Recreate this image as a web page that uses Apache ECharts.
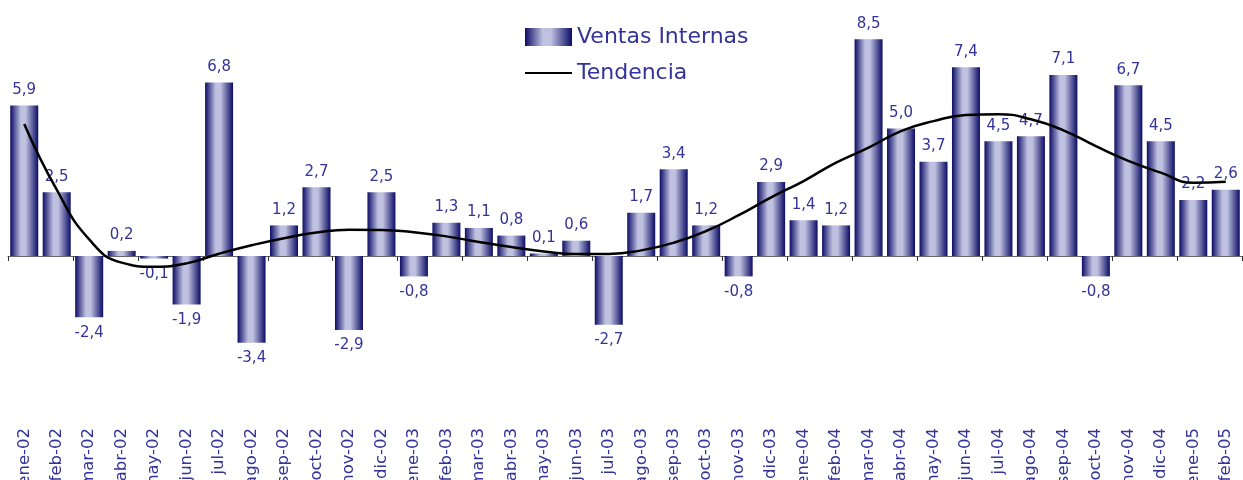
<!DOCTYPE html>
<html>
<head>
<meta charset="utf-8">
<script src="https://cdn.jsdelivr.net/npm/echarts@6/dist/echarts.min.js"></script>
<style>
html, body { margin: 0; padding: 0; background: #fff; }
#graph { width: 1243px; height: 480px; }
</style>
</head>
<body>
<div id="graph"></div>
<script>
var meses = ['ene-02','feb-02','mar-02','abr-02','may-02','jun-02','jul-02','ago-02','sep-02','oct-02','nov-02','dic-02',
    'ene-03','feb-03','mar-03','abr-03','may-03','jun-03','jul-03','ago-03','sep-03','oct-03','nov-03','dic-03',
    'ene-04','feb-04','mar-04','abr-04','may-04','jun-04','jul-04','ago-04','sep-04','oct-04','nov-04','dic-04',
    'ene-05','feb-05'];
var ventasInternas = [5.9, 2.5, -2.4, 0.2, -0.1, -1.9, 6.8, -3.4, 1.2, 2.7, -2.9, 2.5,
    -0.8, 1.3, 1.1, 0.8, 0.1, 0.6, -2.7, 1.7, 3.4, 1.2, -0.8, 2.9,
    1.4, 1.2, 8.5, 5.0, 3.7, 7.4, 4.5, 4.7, 7.1, -0.8, 6.7, 4.5,
    2.2, 2.6];
var tendencia = [5.18, 2.6, 0.65, -0.26, -0.42, -0.29, 0.09, 0.42, 0.7, 0.92, 1.03, 1.02,
    0.93, 0.77, 0.55, 0.35, 0.18, 0.08, 0.08, 0.22, 0.52, 0.98, 1.6, 2.3,
    2.94, 3.66, 4.25, 4.9, 5.29, 5.53, 5.56, 5.36, 4.93, 4.31, 3.73, 3.27,
    2.87, 2.91];

var azul = '#333399';
var fuente = 'DejaVu Sans';

var dom = document.getElementById("graph");
var myChart = echarts.init(dom);

var barColor = new echarts.graphic.LinearGradient(0, 0, 1, 0, [
    { offset: 0, color: '#0c0c66' },
    { offset: 0.38, color: '#bfc1e0' },
    { offset: 0.55, color: '#bfc1e0' },
    { offset: 1, color: '#0c0c66' }
]);

var option = {
    animation: false,
    backgroundColor: '#fff',
    grid: {
        left: 8,
        right: 1,
        top: 1,
        height: 408,
        outerBoundsMode: 'none',
        containLabel: false
    },
    legend: {
        orient: 'vertical',
        left: 519,
        top: 21,
        itemWidth: 47,
        itemHeight: 18,
        itemGap: 14,
        textStyle: { color: azul, fontSize: 22, fontFamily: fuente },
        data: [
            { name: 'Ventas Internas', icon: 'rect' },
            { name: 'Tendencia', itemStyle: { color: 'rgba(0,0,0,0)', borderWidth: 0, opacity: 0 } }
        ]
    },
    xAxis: [{
        type: 'category',
        data: meses,
        position: 'bottom',
        axisLine: { show: false, onZero: false },
        axisTick: { show: false },
        axisLabel: {
            rotate: 90,
            margin: 19,
            interval: 0,
            color: azul,
            fontSize: 16.5,
            fontFamily: fuente
        }
    }, {
        type: 'category',
        data: meses,
        position: 'bottom',
        axisLine: { onZero: true, lineStyle: { color: '#666', width: 1 } },
        axisTick: { show: true, length: 5, lineStyle: { color: '#333' } },
        axisLabel: { show: false }
    }],
    yAxis: {
        type: 'value',
        min: -6,
        max: 10,
        show: false,
        splitLine: { show: false }
    },
    series: [{
        name: 'Ventas Internas',
        type: 'bar',
        data: ventasInternas.map(function (v) {
            return {
                value: v,
                label: { position: v < 0 ? 'bottom' : 'top' }
            };
        }),
        barWidth: 28,
        itemStyle: { color: barColor },
        label: {
            show: true,
            distance: 8,
            color: azul,
            fontSize: 15,
            fontFamily: fuente,
            formatter: function (p) {
                return p.value.toFixed(1).replace('.', ',');
            }
        },
        z: 2
    }, {
        name: 'Tendencia',
        type: 'line',
        data: tendencia,
        smooth: 0.5,
        symbol: 'none',
        lineStyle: { color: '#000', width: 2.5 },
        itemStyle: { color: '#000' },
        z: 3
    }]
};

if (option && typeof option === "object") {
    myChart.setOption(option, true);
}
</script>
</body>
</html>
